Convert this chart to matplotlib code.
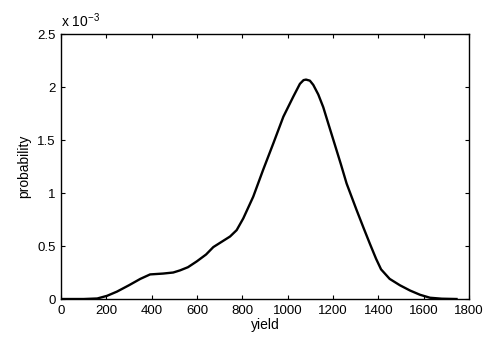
import matplotlib
matplotlib.use("Agg")
import matplotlib.pyplot as plt

yield_vals = [0, 100, 160, 203, 247, 300, 350, 393, 450, 495, 525, 560, 599, 640, 672, 709,
              746, 775, 804, 848, 892, 937, 981, 1025, 1054, 1070, 1081, 1098, 1113, 1135, 1157,
              1180, 1209, 1235, 1260, 1304, 1335, 1363, 1390, 1412, 1450, 1495, 1540, 1584, 1628,
              1680, 1745]
prob_e3 = [0.0, 0.0, 0.005, 0.03, 0.07, 0.13, 0.19, 0.232, 0.24, 0.25, 0.27, 0.30, 0.355, 0.42, 0.49, 0.54,
           0.59, 0.65, 0.76, 0.965, 1.22, 1.47, 1.72, 1.91, 2.03, 2.065, 2.07, 2.06, 2.02, 1.93, 1.81,
           1.65, 1.45, 1.27, 1.09, 0.84, 0.67, 0.52, 0.38, 0.28, 0.19, 0.13, 0.08, 0.04, 0.012,
           0.003, 0.0]

x_ticks = [0, 200, 400, 600, 800, 1000, 1200, 1400, 1600, 1800]
y_ticks = [0, 0.5, 1, 1.5, 2, 2.5]
y_ticklabels = ["0", "0.5", "1", "1.5", "2", "2.5"]

plt.rcParams['font.family'] = ['Liberation Sans', 'DejaVu Sans']
fig = plt.figure(figsize=(4.87, 3.45), dpi=100)
ax = fig.add_axes([0.1253, 0.1333, 0.963 - 0.1253, 0.9014 - 0.1333])
ax.plot(yield_vals, prob_e3, color='black', linewidth=1.7, solid_joinstyle='round')
ax.set_xlim(0, 1800)
ax.set_ylim(0, 2.5)
ax.set_xticks(x_ticks)
ax.set_yticks(y_ticks)
ax.set_yticklabels(y_ticklabels)
ax.tick_params(direction='in', top=True, right=True, length=3, width=0.8, labelsize=9.5, pad=4)
for s in ax.spines.values():
    s.set_linewidth(1.0)
ax.set_xlabel('yield', fontsize=10, labelpad=1)
ax.set_ylabel('probability', fontsize=10, labelpad=4)
ax.text(0.0, 1.015, r'x 10$^{\mathregular{-3}}$', transform=ax.transAxes, fontsize=10, ha='left', va='bottom')
fig.savefig('out.png', dpi=100)
